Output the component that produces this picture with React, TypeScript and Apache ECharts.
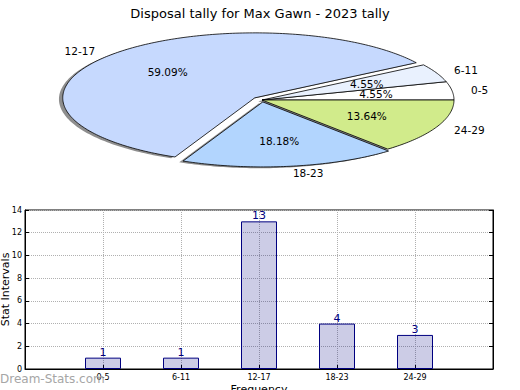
import React, { useEffect, useRef } from "react";
import * as echarts from "echarts";

const pieLabels = ["0-5", "6-11", "12-17", "18-23", "24-29"];
const pieValues = [1, 1, 13, 4, 3];
const pieExplode = [0, 0, 0.05, 0.03, 0];
const pieColors = ["#ffffff", "#e9f1fe", "#c6d9fe", "#b2d5fe", "#d1eb8b"];

const barCategories = ["0-5", "6-11", "12-17", "18-23", "24-29"];
const barValues = [1, 1, 13, 4, 3];

const FONT = "DejaVu Sans";
const CX = 262;
const CY = 100;
const RX = 192;
const RY = 65;

export default function App() {
  const ref = useRef<HTMLDivElement>(null);
  useEffect(() => {
    if (!ref.current) return;
    const chart = echarts.init(ref.current, null, { renderer: "svg" });
    const total = pieValues.reduce((a, b) => a + b, 0);
    const option: any = {
      animation: false,
      backgroundColor: "#ffffff",
      title: {
        text: "Disposal tally for Max Gawn - 2023 tally",
        left: "center",
        top: 2,
        textStyle: { fontFamily: FONT, fontSize: 13, fontWeight: "normal", color: "#000" },
      },
      graphic: [
        {
          type: "text",
          left: 0,
          top: 373,
          z: 100,
          style: { text: "Dream-Stats.com", fontFamily: FONT, fontSize: 12, fill: "#a6a6a6" },
        },
      ],
      grid: {
        left: 25,
        top: 210,
        width: 468,
        height: 159,
        containLabel: false,
        outerBoundsMode: "none",
        show: true,
        borderColor: "#000",
        borderWidth: 1,
        backgroundColor: "transparent",
      },
      xAxis: {
        type: "value",
        min: -1,
        max: 5,
        interval: 1,
        name: "Frequency",
        nameLocation: "middle",
        nameGap: 15,
        nameMoveOverlap: false,
        nameTextStyle: { fontFamily: FONT, fontSize: 11, color: "#000" },
        axisLine: { show: true, onZero: false, lineStyle: { color: "#000" } },
        axisTick: { show: true, inside: true, length: 4, lineStyle: { color: "#000" } },
        axisLabel: {
          fontFamily: FONT,
          fontSize: 8,
          color: "#000",
          margin: 4,
          formatter: (v: number) => barCategories[v] ?? "",
        },
        splitLine: { show: true, lineStyle: { type: "dotted", color: "#b0b0b0" } },
      },
      yAxis: [
        {
          type: "value",
          min: 0,
          max: 14,
          interval: 2,
          name: "Stat Intervals",
          nameLocation: "middle",
          nameGap: 14,
          nameMoveOverlap: false,
          nameTextStyle: { fontFamily: FONT, fontSize: 11, color: "#000" },
          axisLine: { show: true, onZero: false, lineStyle: { color: "#000" } },
          axisTick: { show: true, inside: true, length: 4, lineStyle: { color: "#000" } },
          axisLabel: { fontFamily: FONT, fontSize: 8, color: "#000", margin: 3 },
          splitLine: { show: true, lineStyle: { type: "dotted", color: "#b0b0b0" } },
        },
        {
          type: "value",
          position: "right",
          min: 0,
          max: 14,
          interval: 2,
          axisLine: { show: true, onZero: false, lineStyle: { color: "#000" } },
          axisTick: { show: true, inside: true, length: 4, lineStyle: { color: "#000" } },
          axisLabel: { show: false },
          splitLine: { show: false },
        },
      ],
      series: [
        {
          type: "bar",
          data: barValues.map((v, i) => [i, v]),
          barWidth: 36,
          itemStyle: { color: "rgba(0,0,128,0.2)", borderColor: "#000080", borderWidth: 1 },
          label: {
            show: true,
            position: "top",
            distance: 0,
            fontFamily: FONT,
            fontSize: 11,
            color: "#000080",
            formatter: (p: any) => String(p.value[1]),
          },
        },
        {
          type: "custom",
          coordinateSystem: "none",
          data: pieValues,
          silent: true,
          renderItem: (params: any) => {
            const i = params.dataIndex;
            let start = 0;
            for (let j = 0; j < i; j++) start += pieValues[j];
            const a0 = (start / total) * Math.PI * 2;
            const a1 = ((start + pieValues[i]) / total) * Math.PI * 2;
            const mid = (a0 + a1) / 2;
            const ox = CX + pieExplode[i] * RX * Math.cos(mid);
            const oy = CY - pieExplode[i] * RY * Math.sin(mid);
            const pts: number[][] = [[ox, oy]];
            const n = Math.max(2, Math.ceil((a1 - a0) / (Math.PI / 180)));
            for (let k = 0; k <= n; k++) {
              const a = a0 + ((a1 - a0) * k) / n;
              pts.push([ox + RX * Math.cos(a), oy - RY * Math.sin(a)]);
            }
            const shadow = pts.map((p) => [p[0] - 3.8, p[1] + 1.3]);
            const c = Math.cos(mid);
            const s = Math.sin(mid);
            const pct = ((pieValues[i] / total) * 100).toFixed(2) + "%";
            return {
              type: "group",
              children: [
                { type: "polygon", z2: 0, shape: { points: shadow }, style: { fill: "rgba(50,50,50,0.55)" } },
                {
                  type: "polygon",
                  z2: 10,
                  shape: { points: pts },
                  style: { fill: pieColors[i], stroke: "#000", lineWidth: 0.8 },
                },
                {
                  type: "text",
                  z2: 20,
                  x: ox + 1.1 * RX * c,
                  y: oy - 1.1 * RY * s,
                  style: {
                    text: pieLabels[i],
                    fontFamily: FONT,
                    fontSize: 10.5,
                    fill: "#000",
                    align: c >= 0 ? "left" : "right",
                    verticalAlign: "middle",
                  },
                },
                {
                  type: "text",
                  z2: 20,
                  x: ox + 0.6 * RX * c,
                  y: oy - 0.6 * RY * s,
                  style: {
                    text: pct,
                    fontFamily: FONT,
                    fontSize: 10.5,
                    fill: "#000",
                    align: "center",
                    verticalAlign: "middle",
                  },
                },
              ],
            };
          },
        },
      ],
    };
    chart.setOption(option);
    return () => chart.dispose();
  }, []);
  return (
    <div
      ref={ref}
      style={{ position: "fixed", left: 0, top: 0, width: 520, height: 390 }}
    />
  );
}
